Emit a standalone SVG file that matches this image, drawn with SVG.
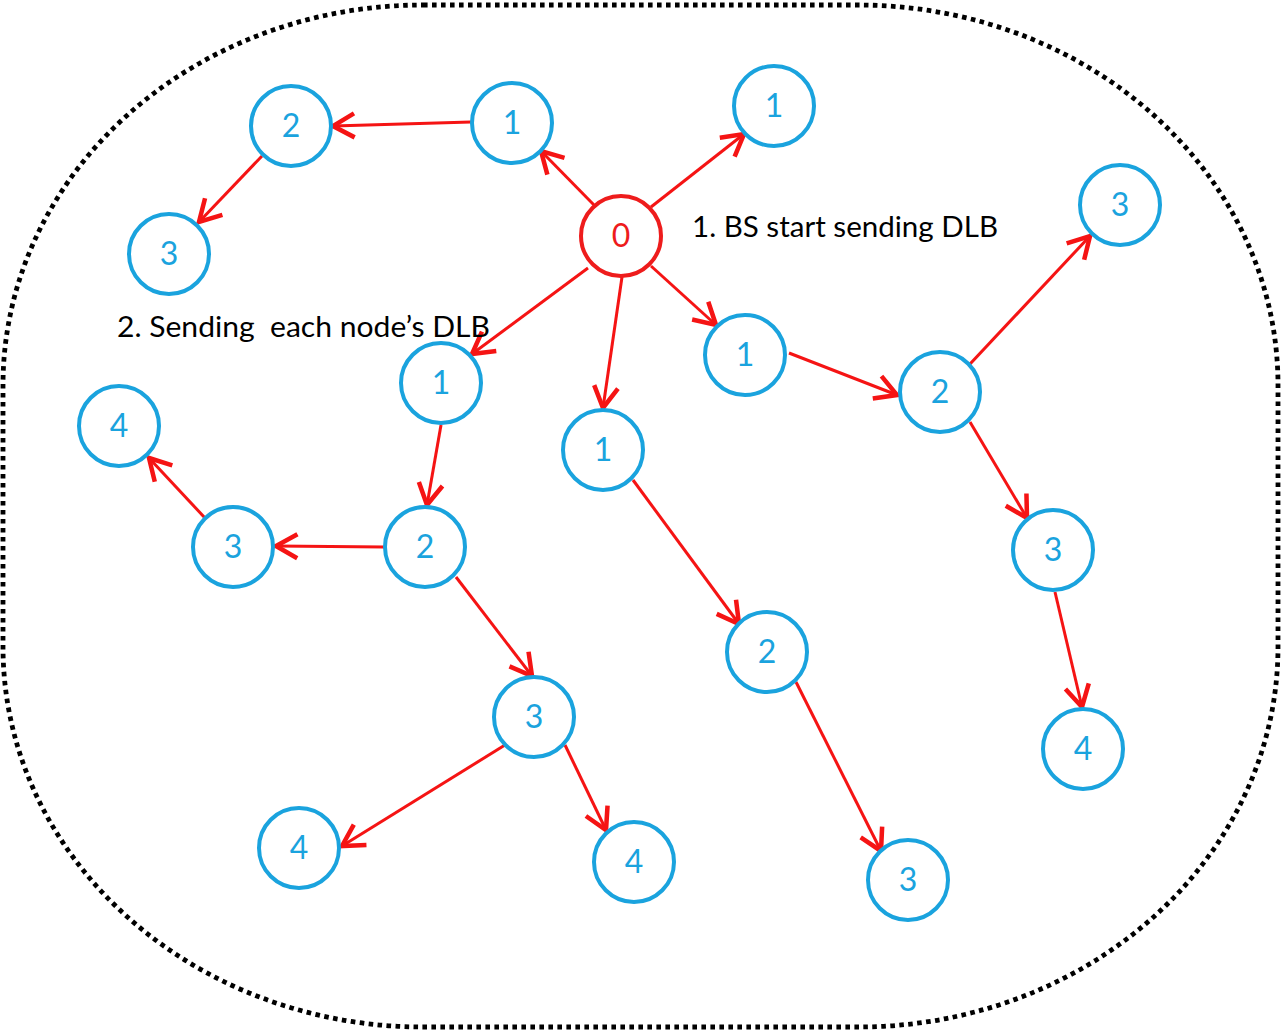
<svg xmlns="http://www.w3.org/2000/svg" width="1281" height="1032" viewBox="0 0 1281 1032">
  <style>
    .node circle { fill: #ffffff; stroke: #1aa3de; stroke-width: 4; }
    .node text { fill: #1aa3de; font-family: Lato, "Open Sans", sans-serif; font-size: 32px; text-anchor: middle; }
    .bs circle { stroke: #ee1c1c; }
    .bs text { fill: #ee1c1c; }
    .edges line { stroke: #f51414; stroke-width: 3; marker-end: url(#head); }
    .note { font-family: Lato, "Open Sans", sans-serif; font-size: 29px; fill: #000000; }
  </style>
  <defs>
    <marker id="head" markerUnits="userSpaceOnUse" markerWidth="32" markerHeight="32" viewBox="-20 -12 24 24" refX="0" refY="0" orient="auto">
      <path d="M -16 -9 L 0 0 L -16 9" fill="none" stroke="#f51414" stroke-width="3.4"/>
    </marker>
  </defs>
  <rect width="1281" height="1032" fill="#ffffff"/>

  <!-- network boundary -->
  <path id="boundary" d="M 423 5 L 858 5 A 420 380 0 0 1 1278 385 L 1278 647 A 420 380 0 0 1 858 1027 L 423 1027 A 420 380 0 0 1 3 647 L 3 385 A 420 380 0 0 1 423 5 Z" fill="none" stroke="#000000" stroke-width="4.8" stroke-dasharray="4.6 4.4"/>

  <!-- connectors -->
  <g class="edges">
    <line x1="594" y1="205" x2="541" y2="151"/>
    <line x1="651" y1="207" x2="744" y2="134"/>
    <line x1="471" y1="122" x2="333" y2="126"/>
    <line x1="262" y1="156" x2="199" y2="222"/>
    <line x1="588" y1="268" x2="472" y2="354"/>
    <line x1="622" y1="277" x2="603" y2="408"/>
    <line x1="651" y1="266" x2="716" y2="325"/>
    <line x1="789" y1="353" x2="897" y2="395"/>
    <line x1="970" y1="364" x2="1090" y2="236"/>
    <line x1="970" y1="422" x2="1027" y2="518"/>
    <line x1="1055" y1="592" x2="1082" y2="707"/>
    <line x1="441" y1="425" x2="427" y2="505"/>
    <line x1="384" y1="547" x2="276" y2="546"/>
    <line x1="205" y1="518" x2="149" y2="458"/>
    <line x1="456" y1="577" x2="532" y2="676"/>
    <line x1="505" y1="745" x2="342" y2="846"/>
    <line x1="565" y1="745" x2="606" y2="830"/>
    <line x1="633" y1="480" x2="739" y2="624"/>
    <line x1="796" y1="682" x2="881" y2="851"/>
  </g>

  <!-- base station -->
  <g id="n0" class="node bs"><circle cx="621" cy="236" r="40"/><text x="621" y="247">0</text></g>

  <!-- sensor nodes, labelled by hop count -->
  <g id="n1a" class="node"><circle cx="512" cy="123" r="40"/><text x="512" y="134">1</text></g>
  <g id="n1b" class="node"><circle cx="774" cy="106" r="40"/><text x="774" y="117">1</text></g>
  <g id="n2a" class="node"><circle cx="291" cy="126" r="40"/><text x="291" y="137">2</text></g>
  <g id="n3a" class="node"><circle cx="169" cy="254" r="40"/><text x="169" y="265">3</text></g>
  <g id="n3b" class="node"><circle cx="1120" cy="205" r="40"/><text x="1120" y="216">3</text></g>
  <g id="n1c" class="node"><circle cx="745" cy="355" r="40"/><text x="745" y="366">1</text></g>
  <g id="n2b" class="node"><circle cx="940" cy="392" r="40"/><text x="940" y="403">2</text></g>
  <g id="n1d" class="node"><circle cx="441" cy="383" r="40"/><text x="441" y="394">1</text></g>
  <g id="n1e" class="node"><circle cx="603" cy="450" r="40"/><text x="603" y="461">1</text></g>
  <g id="n4a" class="node"><circle cx="119" cy="426" r="40"/><text x="119" y="437">4</text></g>
  <g id="n3c" class="node"><circle cx="233" cy="547" r="40"/><text x="233" y="558">3</text></g>
  <g id="n2c" class="node"><circle cx="425" cy="547" r="40"/><text x="425" y="558">2</text></g>
  <g id="n3d" class="node"><circle cx="1053" cy="550" r="40"/><text x="1053" y="561">3</text></g>
  <g id="n2d" class="node"><circle cx="767" cy="652" r="40"/><text x="767" y="663">2</text></g>
  <g id="n3e" class="node"><circle cx="534" cy="717" r="40"/><text x="534" y="728">3</text></g>
  <g id="n4b" class="node"><circle cx="1083" cy="749" r="40"/><text x="1083" y="760">4</text></g>
  <g id="n4c" class="node"><circle cx="299" cy="848" r="40"/><text x="299" y="859">4</text></g>
  <g id="n4d" class="node"><circle cx="634" cy="862" r="40"/><text x="634" y="873">4</text></g>
  <g id="n3f" class="node"><circle cx="908" cy="880" r="40"/><text x="908" y="891">3</text></g>

  <!-- step notes -->
  <text class="note" x="692" y="237" textLength="306" lengthAdjust="spacingAndGlyphs">1. BS start sending DLB</text>
  <text class="note" x="117" y="337" xml:space="preserve" textLength="373" lengthAdjust="spacingAndGlyphs">2. Sending  each node’s DLB</text>
</svg>
